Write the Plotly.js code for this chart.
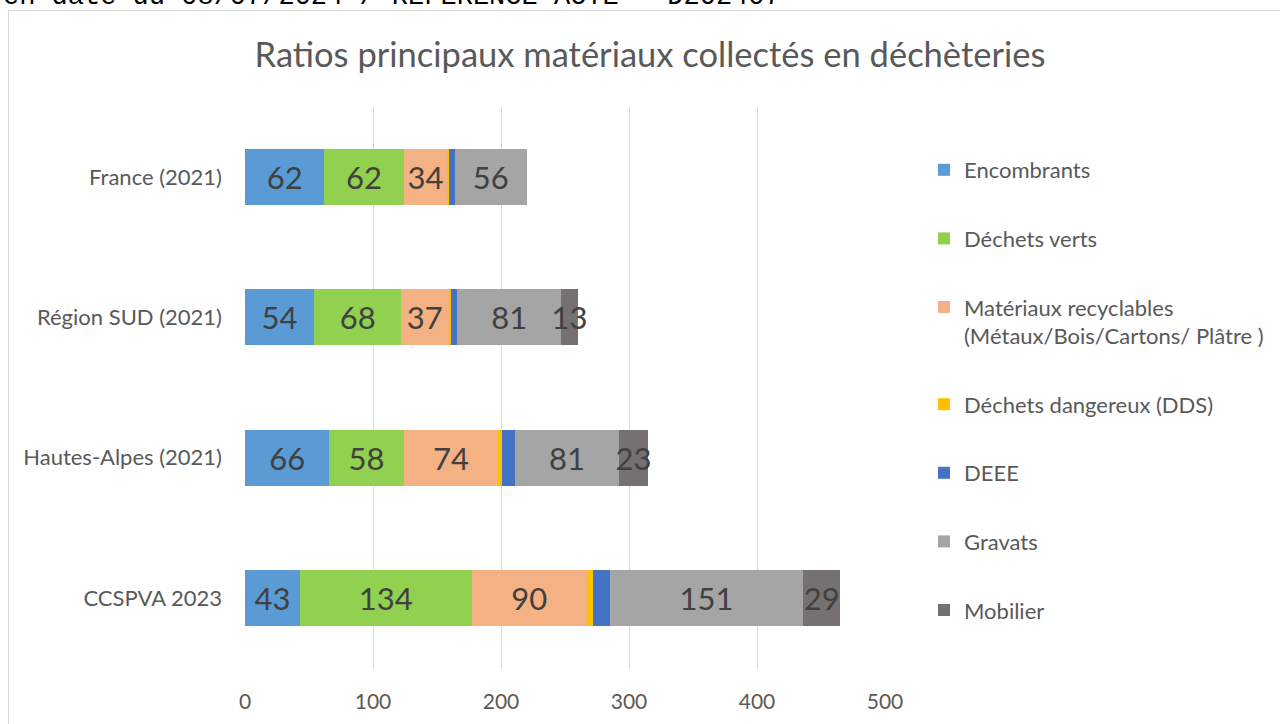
<!DOCTYPE html>
<html>
<head>
<meta charset="utf-8">
<script src="https://cdn.plot.ly/plotly-3.0.1.min.js"></script>
<style>
  html, body { margin: 0; padding: 0; background: #fff; overflow: hidden; }
  #stamp {
    position: absolute; left: 3px; top: -16px;
    font-family: "Liberation Mono", "DejaVu Sans Mono", monospace;
    font-size: 27px; line-height: 27px; color: #000; white-space: nowrap;
  }
  #chart {
    position: absolute; left: 8px; top: 10px;
    width: 1290px; height: 730px;
    border: 1px solid #d9d9d9;
  }
</style>
</head>
<body>
<div id="stamp">en date du 08/07/2024 / REFERENCE ACTE - D202407</div>
<div id="chart"></div>
<script>
// territories, top to bottom
const territories = ['France (2021)', 'Région SUD (2021)', 'Hautes-Alpes (2021)', 'CCSPVA 2023'];

// kg/hab per material
const encombrants = [62, 54, 66, 43];
const dechetsVerts = [62, 68, 58, 134];
const recyclables = [34, 37, 74, 90];
const dds = [1, 2, 3, 5];
const deee = [5, 5, 10, 13];
const gravats = [56, 81, 81, 151];
const mobilier = [null, 13, 23, 29];

const series = [
    { name: 'Encombrants', values: encombrants, color: '#5B9BD5', label: true },
    { name: 'Déchets verts', values: dechetsVerts, color: '#92D050', label: true },
    { name: 'Matériaux recyclables<br>(Métaux/Bois/Cartons/ Plâtre )', values: recyclables, color: '#F4B183', label: true },
    { name: 'Déchets dangereux (DDS)', values: dds, color: '#FFC000', label: false },
    { name: 'DEEE', values: deee, color: '#4472C4', label: false },
    { name: 'Gravats', values: gravats, color: '#A5A5A5', label: true },
    { name: 'Mobilier', values: mobilier, color: '#767171', label: true },
];

const FONT = 'Lato, "Open Sans", sans-serif';

const traces = series.map((s, i) => ({
    type: 'bar',
    orientation: 'h',
    name: s.name,
    legendgroup: 'g' + i,
    y: territories,
    x: s.values,
    marker: { color: s.color, line: { width: 0 } },
    text: s.label ? s.values.map(v => v == null ? '' : String(v)) : undefined,
    textposition: s.label ? 'inside' : 'none',
    insidetextanchor: 'middle',
    constraintext: 'none',
    textfont: { family: FONT, size: 31, color: '#404040' },
    hoverinfo: 'x+name',
}));

const layout = {
    width: 1290,
    height: 730,
    barmode: 'stack',
    bargap: 0.6,
    paper_bgcolor: '#fff',
    plot_bgcolor: '#fff',
    font: { family: FONT, color: '#595959', size: 18 },
    margin: { l: 236, r: 414, t: 96, b: 73 },
    title: {
        text: 'Ratios principaux matériaux collectés en déchèteries',
        font: { family: FONT, size: 34.5, color: '#595959' },
        x: 641 / 1290, xanchor: 'center',
        y: 1 - 44 / 730, yanchor: 'middle',
    },
    xaxis: {
        range: [0, 500],
        dtick: 100,
        showgrid: true,
        gridcolor: '#d9d9d9',
        gridwidth: 1,
        zeroline: false,
        showline: false,
        ticks: '',
        ticklabelstandoff: 19,
        tickfont: { family: FONT, size: 21, color: '#595959' },
    },
    yaxis: {
        autorange: 'reversed',
        showgrid: false,
        zeroline: false,
        showline: false,
        ticks: '',
        ticklabelstandoff: 22,
        tickfont: { family: FONT, size: 22, color: '#595959' },
    },
    showlegend: true,
    legend: {
        xref: 'container', yref: 'container',
        x: 915 / 1290, xanchor: 'left',
        y: 1 - 138 / 730, yanchor: 'top',
        traceorder: 'grouped',
        tracegroupgap: 37,
        valign: 'top',
        maxheight: 700,
        font: { family: FONT, size: 22, color: '#595959' },
        bgcolor: 'rgba(0,0,0,0)',
    },
};

Plotly.newPlot('chart', traces, layout, { displayModeBar: false, staticPlot: true });
</script>
</body>
</html>
